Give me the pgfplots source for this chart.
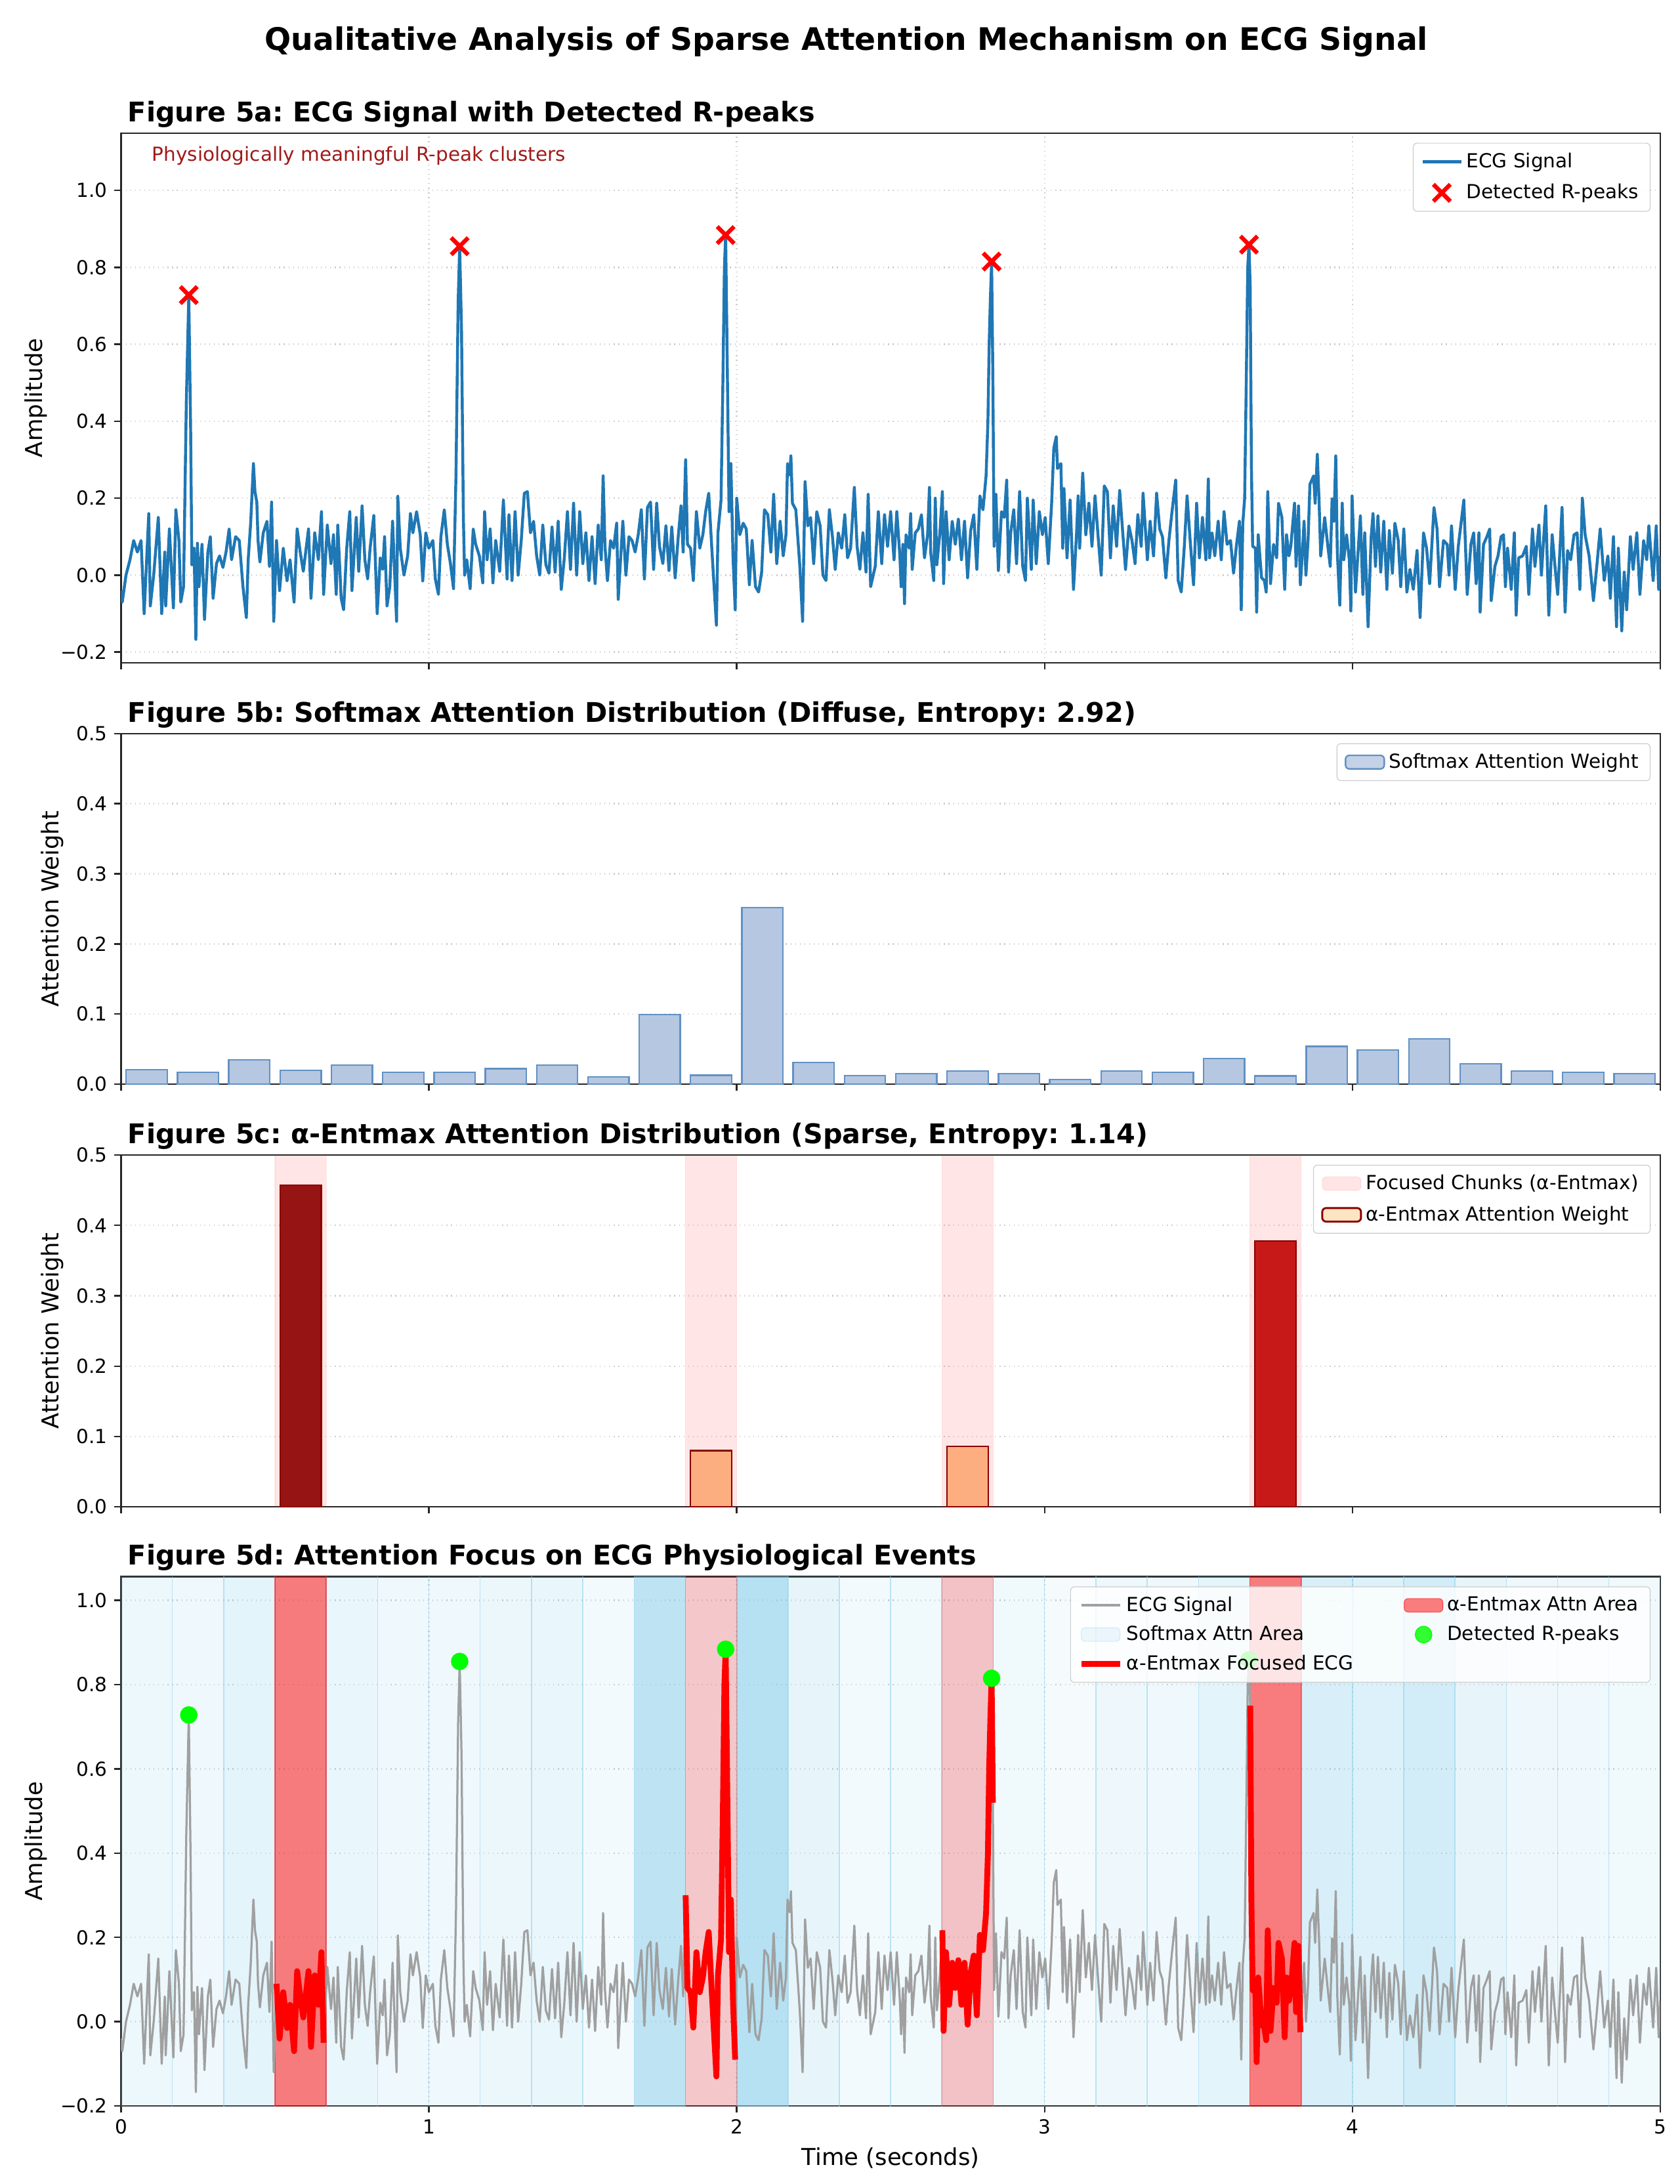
\documentclass[border=0pt]{standalone}
\usepackage{fontspec}
\setmainfont{DejaVu Sans}
\usepackage{pgfplots}
\usepackage{pgfplotstable}
\pgfplotsset{compat=1.18}
\frenchspacing

\definecolor{ecgblue}{RGB}{31,119,180}
\definecolor{ecggray}{RGB}{160,160,160}
\definecolor{sbarfill}{RGB}{181,199,225}
\definecolor{sbaredge}{RGB}{98,145,196}
\definecolor{skyb}{RGB}{135,206,235}
\definecolor{dred}{RGB}{139,0,0}
\definecolor{notered}{RGB}{160,25,25}
\definecolor{gridc}{RGB}{205,205,205}
\definecolor{limeg}{RGB}{0,255,0}
\definecolor{ent0}{RGB}{150,20,20}
\definecolor{ent1}{RGB}{252,174,128}
\definecolor{ent2}{RGB}{252,174,128}
\definecolor{ent3}{RGB}{200,25,25}
\definecolor{entleg}{RGB}{253,222,180}

% ECG trace
\pgfplotstableread[row sep=\\]{
t y\\
0.000 -0.04\\ 0.004 -0.07\\ 0.016 0.00\\ 0.029 0.04\\ 0.041 0.09\\ 0.053 0.06\\ 0.065 0.09\\ 0.075 -0.10\\
0.090 0.16\\ 0.095 -0.08\\ 0.106 0.00\\ 0.121 0.15\\ 0.132 -0.10\\ 0.142 0.06\\ 0.145 -0.08\\ 0.157 0.12\\
0.170 -0.085\\ 0.178 0.17\\ 0.188 0.09\\ 0.194 -0.07\\ 0.203 -0.03\\ 0.212 0.45\\ 0.220 0.728\\ 0.226 0.38\\
0.230 0.027\\ 0.237 0.07\\ 0.243 -0.167\\ 0.248 0.083\\ 0.253 -0.03\\ 0.263 0.08\\ 0.271 -0.115\\ 0.282 0.06\\
0.290 0.10\\ 0.299 -0.06\\ 0.310 0.03\\ 0.320 0.05\\ 0.331 0.02\\ 0.341 0.06\\ 0.351 0.12\\ 0.359 0.04\\
0.372 0.10\\ 0.384 0.09\\ 0.396 -0.03\\ 0.407 -0.11\\ 0.413 0.04\\ 0.421 0.135\\ 0.430 0.29\\ 0.435 0.217\\
0.441 0.19\\ 0.445 0.09\\ 0.451 0.034\\ 0.462 0.11\\ 0.474 0.14\\ 0.482 0.023\\ 0.489 0.19\\ 0.496 -0.12\\
0.505 0.09\\ 0.515 -0.04\\ 0.527 0.07\\ 0.539 -0.015\\ 0.549 0.04\\ 0.562 -0.07\\ 0.572 0.12\\ 0.582 0.06\\
0.592 0.01\\ 0.609 0.12\\ 0.617 -0.06\\ 0.629 0.11\\ 0.641 0.04\\ 0.651 0.165\\ 0.658 -0.05\\ 0.670 0.13\\
0.682 0.03\\ 0.690 0.105\\ 0.699 -0.05\\ 0.704 0.13\\ 0.715 -0.06\\ 0.723 -0.09\\ 0.733 0.07\\ 0.743 0.165\\
0.750 -0.04\\ 0.764 0.15\\ 0.772 0.01\\ 0.783 0.18\\ 0.792 0.04\\ 0.801 -0.01\\ 0.809 0.07\\ 0.821 0.155\\
0.832 -0.10\\ 0.842 0.045\\ 0.850 0.015\\ 0.856 0.10\\ 0.864 -0.08\\ 0.873 -0.03\\ 0.882 0.14\\ 0.895 -0.12\\
0.899 0.205\\ 0.907 0.07\\ 0.919 0.00\\ 0.931 0.05\\ 0.940 0.16\\ 0.948 0.11\\ 0.960 0.165\\ 0.972 0.105\\
0.980 -0.015\\ 0.990 0.11\\ 1.000 0.07\\ 1.013 0.09\\ 1.021 -0.01\\ 1.031 -0.05\\ 1.039 0.10\\ 1.050 0.17\\
1.060 0.08\\ 1.070 0.03\\ 1.080 -0.035\\ 1.088 0.26\\ 1.095 0.71\\ 1.100 0.855\\ 1.106 0.635\\ 1.112 0.15\\
1.116 0.00\\ 1.123 0.04\\ 1.134 -0.035\\ 1.144 0.12\\ 1.152 0.08\\ 1.164 0.05\\ 1.175 -0.02\\ 1.181 0.165\\
1.189 0.04\\ 1.199 0.12\\ 1.208 -0.02\\ 1.217 0.09\\ 1.230 0.01\\ 1.242 0.195\\ 1.254 -0.01\\ 1.260 0.157\\
1.270 -0.014\\ 1.280 0.165\\ 1.290 0.00\\ 1.300 0.09\\ 1.310 0.213\\ 1.320 0.217\\ 1.330 0.11\\ 1.340 0.14\\
1.350 0.05\\ 1.360 0.00\\ 1.370 0.13\\ 1.380 0.027\\ 1.390 0.005\\ 1.400 0.125\\ 1.410 0.008\\ 1.420 0.14\\
1.430 -0.037\\ 1.440 0.045\\ 1.450 0.165\\ 1.460 0.015\\ 1.470 0.187\\ 1.480 0.00\\ 1.490 0.165\\ 1.500 0.03\\
1.510 0.11\\ 1.520 -0.014\\ 1.530 0.10\\ 1.540 -0.022\\ 1.550 0.13\\ 1.560 0.04\\ 1.566 0.258\\ 1.572 0.075\\
1.580 -0.014\\ 1.590 0.09\\ 1.600 0.07\\ 1.610 0.135\\ 1.615 -0.063\\ 1.630 0.14\\ 1.640 0.00\\ 1.650 0.10\\
1.660 0.09\\ 1.670 0.06\\ 1.680 0.105\\ 1.690 0.17\\ 1.700 -0.01\\ 1.710 0.176\\ 1.720 0.19\\ 1.730 0.015\\
1.740 0.187\\ 1.749 0.075\\ 1.760 0.03\\ 1.770 0.128\\ 1.780 0.012\\ 1.789 0.125\\ 1.800 -0.007\\ 1.810 0.10\\
1.819 0.18\\ 1.826 0.06\\ 1.834 0.30\\ 1.840 0.08\\ 1.850 0.07\\ 1.859 -0.014\\ 1.869 0.165\\ 1.880 0.07\\
1.890 0.105\\ 1.899 0.165\\ 1.909 0.213\\ 1.919 0.07\\ 1.934 -0.13\\ 1.939 0.11\\ 1.949 0.195\\ 1.955 0.50\\
1.960 0.80\\ 1.964 0.884\\ 1.968 0.63\\ 1.975 0.165\\ 1.981 0.29\\ 1.988 0.045\\ 1.995 -0.09\\ 2.000 0.20\\
2.010 0.105\\ 2.021 0.135\\ 2.031 0.12\\ 2.041 -0.025\\ 2.050 0.09\\ 2.061 -0.03\\ 2.071 -0.044\\ 2.081 0.008\\
2.090 0.17\\ 2.101 0.157\\ 2.111 0.06\\ 2.120 0.21\\ 2.130 0.03\\ 2.141 0.14\\ 2.151 0.05\\ 2.160 0.105\\
2.165 0.29\\ 2.172 0.26\\ 2.176 0.31\\ 2.181 0.187\\ 2.192 0.17\\ 2.205 0.023\\ 2.214 -0.12\\ 2.222 0.243\\
2.231 0.128\\ 2.240 0.15\\ 2.250 0.03\\ 2.260 0.165\\ 2.271 0.128\\ 2.280 0.00\\ 2.290 -0.014\\ 2.301 0.17\\
2.311 0.10\\ 2.320 0.015\\ 2.330 0.11\\ 2.341 0.07\\ 2.351 0.157\\ 2.360 0.045\\ 2.370 0.07\\ 2.382 0.228\\
2.391 0.075\\ 2.400 0.015\\ 2.410 0.11\\ 2.420 0.008\\ 2.427 0.21\\ 2.435 -0.03\\ 2.450 0.023\\ 2.460 0.165\\
2.471 0.03\\ 2.480 0.157\\ 2.490 0.075\\ 2.500 0.165\\ 2.511 0.04\\ 2.520 0.165\\ 2.530 0.05\\ 2.534 -0.03\\
2.540 0.08\\ 2.545 -0.074\\ 2.550 0.105\\ 2.560 0.07\\ 2.565 0.16\\ 2.570 0.015\\ 2.580 0.11\\ 2.590 0.12\\
2.600 0.157\\ 2.610 0.045\\ 2.620 0.105\\ 2.626 0.228\\ 2.630 0.06\\ 2.640 -0.014\\ 2.645 0.20\\ 2.650 0.027\\
2.660 0.11\\ 2.668 0.217\\ 2.672 -0.022\\ 2.680 0.165\\ 2.690 0.04\\ 2.700 0.14\\ 2.710 0.08\\ 2.720 0.146\\
2.730 0.04\\ 2.740 0.14\\ 2.750 -0.007\\ 2.760 0.116\\ 2.770 0.157\\ 2.780 0.015\\ 2.790 0.206\\ 2.800 0.17\\
2.810 0.258\\ 2.816 0.40\\ 2.820 0.60\\ 2.824 0.72\\ 2.828 0.815\\ 2.832 0.52\\ 2.836 0.075\\ 2.842 0.21\\
2.850 0.012\\ 2.860 0.165\\ 2.869 0.15\\ 2.877 0.247\\ 2.883 0.008\\ 2.890 0.11\\ 2.900 0.17\\ 2.909 0.03\\
2.919 0.217\\ 2.929 0.023\\ 2.938 -0.014\\ 2.944 0.20\\ 2.957 0.015\\ 2.963 0.195\\ 2.973 0.03\\ 2.983 0.165\\
2.993 0.105\\ 3.002 0.15\\ 3.012 0.03\\ 3.023 0.187\\ 3.030 0.33\\ 3.038 0.36\\ 3.042 0.277\\ 3.053 0.29\\
3.059 0.07\\ 3.063 0.225\\ 3.073 0.045\\ 3.083 0.195\\ 3.094 -0.037\\ 3.104 0.11\\ 3.109 0.206\\ 3.114 0.07\\
3.124 0.265\\ 3.134 0.105\\ 3.144 0.187\\ 3.154 0.075\\ 3.164 0.206\\ 3.174 0.10\\ 3.184 0.00\\ 3.194 0.232\\
3.204 0.217\\ 3.214 0.045\\ 3.223 0.18\\ 3.234 0.075\\ 3.244 0.22\\ 3.254 0.11\\ 3.263 0.015\\ 3.274 0.128\\
3.284 0.09\\ 3.294 0.03\\ 3.303 0.157\\ 3.314 0.075\\ 3.320 0.213\\ 3.334 0.04\\ 3.343 0.14\\ 3.354 0.05\\
3.364 0.213\\ 3.374 0.12\\ 3.383 0.10\\ 3.394 -0.007\\ 3.404 0.09\\ 3.414 0.165\\ 3.426 0.247\\ 3.434 -0.014\\
3.444 -0.044\\ 3.454 0.075\\ 3.463 0.206\\ 3.473 0.09\\ 3.484 -0.025\\ 3.494 0.187\\ 3.503 0.045\\ 3.513 0.15\\
3.524 0.04\\ 3.532 0.25\\ 3.536 0.045\\ 3.544 0.11\\ 3.553 0.05\\ 3.564 0.14\\ 3.574 0.04\\ 3.583 0.165\\
3.593 0.08\\ 3.604 0.09\\ 3.614 0.005\\ 3.623 0.075\\ 3.633 0.14\\ 3.639 -0.09\\ 3.644 0.135\\ 3.650 0.20\\
3.655 0.49\\ 3.660 0.80\\ 3.664 0.859\\ 3.668 0.75\\ 3.672 0.28\\ 3.676 0.075\\ 3.685 0.07\\ 3.689 -0.096\\
3.694 0.105\\ 3.705 -0.007\\ 3.714 -0.014\\ 3.720 -0.044\\ 3.725 0.217\\ 3.734 -0.022\\ 3.744 0.08\\ 3.754 0.045\\
3.760 0.187\\ 3.771 0.15\\ 3.780 -0.037\\ 3.786 0.105\\ 3.794 0.05\\ 3.800 0.075\\ 3.812 0.187\\ 3.817 0.023\\
3.825 0.18\\ 3.831 -0.025\\ 3.837 0.05\\ 3.843 0.14\\ 3.849 0.00\\ 3.856 0.09\\ 3.862 0.236\\ 3.874 0.258\\
3.879 0.187\\ 3.886 0.314\\ 3.892 0.187\\ 3.897 0.05\\ 3.910 0.15\\ 3.921 0.07\\ 3.928 0.023\\ 3.934 0.198\\
3.940 0.14\\ 3.946 0.31\\ 3.951 0.06\\ 3.959 -0.078\\ 3.967 0.187\\ 3.972 0.04\\ 3.981 0.105\\ 3.990 0.04\\
3.995 -0.093\\ 3.999 0.206\\ 4.010 -0.044\\ 4.026 0.154\\ 4.034 -0.05\\ 4.040 0.11\\ 4.051 -0.134\\ 4.061 0.10\\
4.067 0.16\\ 4.075 0.023\\ 4.083 0.154\\ 4.092 0.008\\ 4.102 0.14\\ 4.112 -0.037\\ 4.120 0.116\\ 4.130 0.005\\
4.138 0.135\\ 4.149 0.09\\ 4.157 -0.03\\ 4.167 0.12\\ 4.177 -0.044\\ 4.187 0.015\\ 4.198 -0.037\\ 4.210 0.064\\
4.220 -0.11\\ 4.231 0.11\\ 4.241 0.07\\ 4.251 -0.022\\ 4.265 0.176\\ 4.275 0.12\\ 4.283 -0.03\\ 4.296 0.09\\
4.308 0.08\\ 4.314 0.00\\ 4.322 0.128\\ 4.334 -0.037\\ 4.344 0.075\\ 4.353 0.135\\ 4.362 0.195\\ 4.373 -0.05\\
4.385 0.08\\ 4.394 0.11\\ 4.402 -0.022\\ 4.411 0.11\\ 4.415 -0.096\\ 4.426 0.08\\ 4.437 0.10\\ 4.446 0.12\\
4.451 -0.066\\ 4.463 0.023\\ 4.473 0.05\\ 4.483 0.10\\ 4.491 0.105\\ 4.497 -0.03\\ 4.504 0.07\\ 4.516 -0.037\\
4.526 0.11\\ 4.532 -0.104\\ 4.540 0.045\\ 4.553 0.05\\ 4.565 0.075\\ 4.573 -0.05\\ 4.585 0.12\\ 4.593 0.023\\
4.606 0.13\\ 4.614 0.00\\ 4.628 0.18\\ 4.638 -0.104\\ 4.649 0.105\\ 4.659 0.015\\ 4.667 -0.05\\ 4.681 0.176\\
4.691 -0.096\\ 4.699 0.064\\ 4.709 0.04\\ 4.720 0.105\\ 4.730 0.11\\ 4.739 -0.037\\ 4.747 0.20\\ 4.756 0.105\\
4.769 0.05\\ 4.783 -0.066\\ 4.793 0.015\\ 4.805 0.12\\ 4.818 -0.014\\ 4.830 0.05\\ 4.838 -0.06\\ 4.848 0.10\\
4.858 -0.134\\ 4.864 0.07\\ 4.875 -0.145\\ 4.883 0.008\\ 4.891 -0.09\\ 4.903 0.10\\ 4.912 0.015\\ 4.924 0.11\\
4.934 -0.05\\ 4.946 0.09\\ 4.956 0.04\\ 4.963 0.128\\ 4.977 -0.014\\ 4.987 0.128\\ 4.995 -0.037\\ 5.000 0.05\\
}\ecg

\pgfplotstableread{
t y
0.220 0.728
1.100 0.855
1.964 0.884
2.828 0.815
3.664 0.859
}\rpeaks

% softmax weight per chunk (30 chunks of 1/6 s)
\pgfplotstableread{
k w
0 0.0207
1 0.0167
2 0.0344
3 0.0200
4 0.0270
5 0.0167
6 0.0167
7 0.0220
8 0.0270
9 0.0104
10 0.0990
11 0.0126
12 0.2520
13 0.0307
14 0.0122
15 0.0148
16 0.0185
17 0.0148
18 0.0067
19 0.0185
20 0.0167
21 0.0363
22 0.0118
23 0.0540
24 0.0485
25 0.0644
26 0.0289
27 0.0185
28 0.0167
29 0.0148
}\softw

% nonzero alpha-entmax chunks
\pgfplotstableread{
k w
3 0.457
11 0.080
16 0.086
22 0.378
}\entw

\pgfplotsset{
  panel/.style={
    scale only axis, width=794.6pt, xmin=0, xmax=5,
    xtick={0,1,2,3,4,5},
    axis line style={black!85, line width=0.8pt},
    tick style={black!85, line width=0.8pt},
    tick align=outside, major tick length=3.5pt, tick pos=left,
    tick label style={font=\fontsize{10}{12}\selectfont},
    label style={font=\fontsize{12}{14}\selectfont},
    major grid style={gridc, dotted, line width=0.8pt},
    title style={at={(0,1)}, anchor=base west, font=\bfseries\fontsize{14}{17}\selectfont},
    legend cell align=left,
    legend style={at={(1,1)}, anchor=north east, xshift=-5pt, yshift=-5pt,
      draw=black!20, rounded corners=2pt, fill=white, fill opacity=0.8, text opacity=1,
      font=\fontsize{10}{12}\selectfont, inner xsep=4pt, inner ysep=3pt, row sep=3pt},
  },
  patchleg/.style={legend image code/.code={\draw[##1] (0pt,-3.5pt) rectangle (20pt,3.5pt);}},
  lineleg/.style={legend image code/.code={\draw[##1] (0pt,0pt) -- (20pt,0pt);}},
  markleg/.style={legend image code/.code={\draw[##1] plot coordinates {(10pt,0pt)};}},
}

\begin{document}
\begin{tikzpicture}
\useasboundingbox (0,0) rectangle (867pt,-1127.5pt);

\node[font=\bfseries\fontsize{16}{19}\selectfont] at (437pt,-21.4pt)
  {Qualitative Analysis of Sparse Attention Mechanism on ECG Signal};

% (a)
\begin{axis}[panel, at={(62.5pt,-68.7pt)}, anchor=north west, height=273.5pt,
  ymin=-0.228, ymax=1.149, ytick={-0.2,0,0.2,0.4,0.6,0.8,1.0},
  yticklabels={−0.2,0.0,0.2,0.4,0.6,0.8,1.0}, xticklabels={},
  grid=major, ylabel={Amplitude},
  title={Figure 5a: ECG Signal with Detected R-peaks}]
\addplot[ecgblue, line width=1.5pt, line join=round, lineleg] table[x=t,y=y]{\ecg};
\addlegendentry{ECG Signal}
\addplot[only marks, mark=x, red, mark size=6.2pt, mark options={line width=2.2pt}, markleg] table[x=t,y=y]{\rpeaks};
\addlegendentry{Detected R-peaks}
\node[anchor=north west, inner sep=0pt, text=notered, font=\fontsize{10}{12}\selectfont]
  at (rel axis cs:0.02,0.975) {Physiologically meaningful R-peak clusters};
\end{axis}

% (b)
\begin{axis}[panel, at={(62.5pt,-378.7pt)}, anchor=north west, height=181pt,
  ymin=0, ymax=0.5, ytick={0,0.1,0.2,0.3,0.4,0.5},
  yticklabels={0.0,0.1,0.2,0.3,0.4,0.5}, xticklabels={},
  ymajorgrids, ylabel={Attention Weight},
  title={Figure 5b: Softmax Attention Distribution (Diffuse, Entropy: 2.92)}]
\addplot[ybar, bar width=0.13333, bar shift=0pt, fill=sbarfill, draw=sbaredge, line width=0.8pt, patchleg]
  table[x expr=(\thisrow{k}+0.5)/6, y=w]{\softw};
\addlegendentry{Softmax Attention Weight}
\end{axis}

% (c)
\begin{axis}[panel, at={(62.5pt,-596.3pt)}, anchor=north west, height=181.6pt,
  ymin=0, ymax=0.5, ytick={0,0.1,0.2,0.3,0.4,0.5},
  yticklabels={0.0,0.1,0.2,0.3,0.4,0.5}, xticklabels={},
  ymajorgrids, ylabel={Attention Weight},
  title={Figure 5c: α-Entmax Attention Distribution (Sparse, Entropy: 1.14)}]
\addplot[ybar, bar width=0.16667, bar shift=0pt, fill=red, fill opacity=0.1, draw=red, draw opacity=0.08, patchleg]
  table[x expr=(\thisrow{k}+0.5)/6, y expr=0.5]{\entw};
\addlegendentry{Focused Chunks (α-Entmax)}
\pgfplotsinvokeforeach{0,...,3}{%
  \pgfplotstablegetelem{#1}{k}\of\entw \let\kk\pgfplotsretval
  \pgfplotstablegetelem{#1}{w}\of\entw \let\ww\pgfplotsretval
  \pgfmathsetmacro\xc{(\kk+0.5)/6}%
  \edef\mytmp{\noexpand\addplot[forget plot, ybar, bar width=0.13333, bar shift=0pt, fill=ent#1, draw=dred, line width=0.8pt] coordinates {(\xc,\ww)};}%
  \mytmp
}
\addlegendimage{patchleg, fill=entleg, draw=dred, line width=1pt}
\addlegendentry{α-Entmax Attention Weight}
\end{axis}

% (d)
\begin{axis}[panel, at={(62.5pt,-814pt)}, anchor=north west, height=273.2pt,
  ymin=-0.2, ymax=1.056, ytick={-0.2,0,0.2,0.4,0.6,0.8,1.0},
  yticklabels={−0.2,0.0,0.2,0.4,0.6,0.8,1.0}, xticklabels={0,1,2,3,4,5},
  grid=major, ylabel={Amplitude}, xlabel={Time (seconds)},
  legend columns=2, legend style={row sep=2pt, /tikz/every even column/.append style={column sep=24pt}},
  title={Figure 5d: Attention Focus on ECG Physiological Events}]
% softmax shading per chunk
\pgfplotsinvokeforeach{0,...,29}{%
  \pgfplotstablegetelem{#1}{w}\of\softw
  \pgfmathsetmacro\op{min(0.05+5*\pgfplotsretval,0.62)}%
  \pgfmathsetmacro\xa{#1/6}%
  \pgfmathsetmacro\xb{(#1+1)/6}%
  \edef\mytmp{\noexpand\addplot[forget plot, fill=skyb, fill opacity=\op, draw=skyb, draw opacity=0.3, line width=0.5pt] coordinates {(\xa,-1) (\xb,-1) (\xb,2) (\xa,2) (\xa,-1)};}%
  \mytmp
}
% alpha-entmax shading
\pgfplotsinvokeforeach{0,...,3}{%
  \pgfplotstablegetelem{#1}{k}\of\entw \let\kk\pgfplotsretval
  \pgfplotstablegetelem{#1}{w}\of\entw
  \pgfmathsetmacro\op{min(2.5*\pgfplotsretval,0.5)}%
  \pgfmathsetmacro\xa{\kk/6}%
  \pgfmathsetmacro\xb{(\kk+1)/6}%
  \edef\mytmp{\noexpand\addplot[forget plot, fill=red, fill opacity=\op, draw=red, draw opacity=\op, line width=0.6pt] coordinates {(\xa,-1) (\xb,-1) (\xb,2) (\xa,2) (\xa,-1)};}%
  \mytmp
}
\addplot[forget plot, ecggray, line width=1.1pt, line join=round] table[x=t,y=y]{\ecg};
% focused segments
\pgfplotsinvokeforeach{0,...,3}{%
  \pgfplotstablegetelem{#1}{k}\of\entw \let\kk\pgfplotsretval
  \pgfmathsetmacro\xa{\kk/6}%
  \pgfmathsetmacro\xb{(\kk+1)/6-0.001}%
  \edef\mytmp{\noexpand\addplot[forget plot, red, line width=3pt, line join=round, restrict x to domain=\xa:\xb] table[x=t,y=y]{\noexpand\ecg};}%
  \mytmp
}
\addplot[forget plot, only marks, mark=*, mark size=4.3pt, color=limeg] table[x=t,y=y]{\rpeaks};
\addlegendimage{lineleg, ecggray, line width=1.5pt}
\addlegendentry{ECG Signal}
\addlegendimage{patchleg, fill=red, fill opacity=0.5, draw=red, draw opacity=0.5}
\addlegendentry{α-Entmax Attn Area}
\addlegendimage{patchleg, fill=skyb, fill opacity=0.15, draw=skyb, draw opacity=0.3}
\addlegendentry{Softmax Attn Area}
\addlegendimage{markleg, only marks, mark=*, mark size=4.3pt, color=limeg}
\addlegendentry{Detected R-peaks}
\addlegendimage{lineleg, red, line width=3pt}
\addlegendentry{α-Entmax Focused ECG}
\end{axis}
\end{tikzpicture}
\end{document}
